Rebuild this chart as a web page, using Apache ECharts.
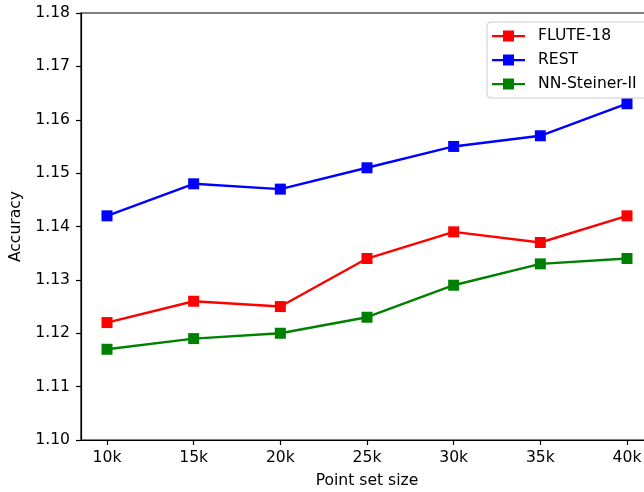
<!DOCTYPE html>
<html>
<head>
<meta charset="utf-8">
<script src="https://cdn.jsdelivr.net/npm/echarts@6/dist/echarts.min.js"></script>
<style>html,body{margin:0;padding:0;background:#fff;}#c{width:644px;height:492px;}</style>
</head>
<body>
<div id="c"></div>
<script>
const sizes = [10, 15, 20, 25, 30, 35, 40];
const xTickLabels = ['10k', '15k', '20k', '25k', '30k', '35k', '40k'];
const flute = [1.122, 1.126, 1.125, 1.134, 1.139, 1.137, 1.142];
const rest = [1.142, 1.148, 1.147, 1.151, 1.155, 1.157, 1.163];
const nnSteiner = [1.117, 1.119, 1.120, 1.123, 1.129, 1.133, 1.134];

const font = 'DejaVu Sans';
const chart = echarts.init(document.getElementById('c'), null, {renderer: 'canvas'});
const icon = 'path://M0,4L33,4L33,6.2L0,6.2Z M11,-0.5L22,-0.5L22,10.5L11,10.5Z';
function mk(name, data, color) {
  return {
    name, type: 'line',
    data: sizes.map((s, i) => [s, data[i]]),
    symbol: 'rect', symbolSize: 11,
    lineStyle: {color, width: 2.4},
    itemStyle: {color},
    color,
    animation: false
  };
}
chart.setOption({
  animation: false,
  textStyle: {fontFamily: font},
  grid: {left: 81, top: 13, width: 572, height: 427, outerBoundsMode: 'none', containLabel: false, show: true, borderColor: '#000', borderWidth: 1.2, backgroundColor: 'transparent'},
  legend: {
    left: 487, top: 22, orient: 'vertical',
    data: [{name: 'FLUTE-18', icon}, {name: 'REST', icon}, {name: 'NN-Steiner-II', icon}],
    itemWidth: 33, itemHeight: 11, itemGap: 8,
    textStyle: {fontFamily: font, fontSize: 15.6, color: '#000', padding: [0,0,0,8]},
    backgroundColor: '#fff', borderColor: '#ccc', borderWidth: 1, borderRadius: 4,
    padding: [6, 20, 6, 5]
  },
  xAxis: {
    type: 'value', min: 8.5, max: 41.5,
    name: 'Point set size', nameLocation: 'middle', nameGap: 33,
    nameTextStyle: {fontFamily: font, fontSize: 15.6, color: '#000'},
    splitLine: {show: false},
    axisLine: {lineStyle: {color: '#000', width: 1.2}},
    axisTick: {customValues: sizes, length: 5, lineStyle: {color: '#000', width: 1.2}},
    axisLabel: {customValues: sizes, formatter: v => xTickLabels[sizes.indexOf(v)], fontFamily: font, fontSize: 15.6, color: '#000', margin: 10}
  },
  yAxis: {
    type: 'value', min: 1.10, max: 1.18, interval: 0.01,
    name: 'Accuracy', nameLocation: 'middle', nameGap: 48,
    nameTextStyle: {fontFamily: font, fontSize: 15.6, color: '#000'},
    splitLine: {show: false},
    axisLine: {show: true, lineStyle: {color: '#000', width: 1.2}},
    axisTick: {show: true, length: 5, lineStyle: {color: '#000', width: 1.2}},
    axisLabel: {formatter: v => v.toFixed(2), fontFamily: font, fontSize: 15.6, color: '#000', margin: 11}
  },
  series: [
    mk('FLUTE-18', flute, '#ff0000'),
    mk('REST', rest, '#0000ff'),
    mk('NN-Steiner-II', nnSteiner, '#008000')
  ]
});
</script>
</body>
</html>
